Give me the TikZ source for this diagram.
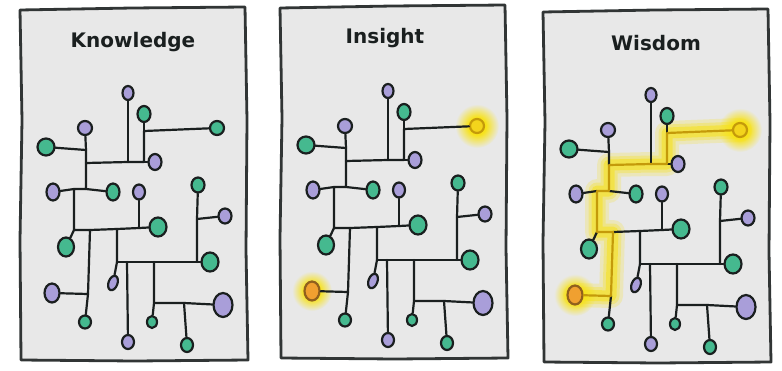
\documentclass[tikz,border=0pt]{standalone}
\usepackage{fontspec}
\newfontfamily\headfont{DejaVu Sans}
\usetikzlibrary{shapes.geometric}

\definecolor{panelgray}{HTML}{E8E8E8}
\definecolor{ink}{HTML}{1A1F1F}
\definecolor{leafgreen}{HTML}{45B98F}
\definecolor{lilac}{HTML}{A99ED9}
\definecolor{amber}{HTML}{F0A030}
\definecolor{lemon}{HTML}{F3D41C}
\definecolor{glowcore}{HTML}{F7E21A}
\definecolor{routegold}{HTML}{C49A0A}

\pgfdeclarelayer{paper}
\pgfdeclarelayer{glow}
\pgfsetlayers{paper,glow,main}
\pgfdeclareradialshading{glowball}{\pgfpoint{0bp}{0bp}}{color(0bp)=(glowcore); color(10bp)=(glowcore); color(25bp)=(panelgray); color(50bp)=(panelgray)}

\tikzset{
	frame/.style={draw=ink!90, fill=panelgray, line width=2.8pt, line join=round},
	heading/.style={font=\headfont\bfseries\fontsize{20}{24}\selectfont, text=ink, anchor=base},
	wire/.style={draw=ink, line width=2.2pt, line cap=round, line join=round},
	route/.style={wire},
	knob/.style={ellipse, draw=ink, line width=2.2pt, inner sep=0pt},
	sz/.style 2 args={minimum width=#1pt, minimum height=#2pt},
	gknob/.style={knob, fill=leafgreen},
	pknob/.style={knob, fill=lilac},
	leftend/.style={pknob},
	rightend/.style={gknob},
	litorange/.style={knob, draw=amber!60!black, fill=amber},
	lityellow/.style={knob, draw=routegold, fill=lemon}
}

% the branching tree, same in every panel
\newcommand{\wiring}{%
	\node[pknob, sz={11}{14}] (p-top) at (128,93) {};
	\node[gknob, sz={13}{16}] (g-top) at (144,114) {};
	\node[rightend, sz={14}{14}] (g-right) at (217,128) {};
	\node[pknob, sz={13}{16}] (p-mid) at (155,162) {};
	\node[pknob, sz={14}{14}] (p-left1) at (85,128) {};
	\node[gknob, sz={17}{17}] (g-left1) at (46,147) {};
	\node[pknob, sz={13}{17}] (p-left2) at (53,192) {};
	\node[gknob, sz={13}{17}] (g-c1) at (113,192) {};
	\node[pknob, sz={12}{15}] (p-c) at (139,192) {};
	\node[gknob, sz={17}{19}] (g-c2) at (158,227) {};
	\node[gknob, sz={16}{19}] (g-l3) at (66,247) {};
	\node[leftend, sz={15}{19}] (p-l3) at (52,293) {};
	\node[gknob, sz={12}{13}] (g-b1) at (85,322) {};
	\node[pknob, sz={9}{15}, rotate=-20] (p-s) at (113,283) {};
	\node[pknob, sz={12}{14}] (p-b) at (128,342) {};
	\node[gknob, sz={10}{12}] (g-b2) at (152,322) {};
	\node[pknob, sz={19}{24}] (p-big) at (223,305) {};
	\node[gknob, sz={12}{14}] (g-b3) at (187,345) {};
	\node[gknob, sz={13}{15}] (g-r2) at (198,185) {};
	\node[pknob, sz={13}{15}] (p-r) at (225,216) {};
	\node[gknob, sz={17}{19}] (g-r3) at (210,262) {};
	% junctions
	\coordinate (j1) at (128,162);
	\coordinate (j2) at (144,162);
	\coordinate (j3) at (86,163);
	\coordinate (j4) at (144,131);
	\coordinate (j5) at (86,150);
	\coordinate (j6) at (86,189);
	\coordinate (j7) at (74,189);
	\coordinate (j8) at (74,230);
	\coordinate (j9) at (90,230);
	\coordinate (j10) at (88,294);
	\coordinate (j11) at (117,229);
	\coordinate (j12) at (117,262);
	\coordinate (j13) at (139,228);
	\coordinate (j14) at (127,262);
	\coordinate (j15) at (154,262);
	\coordinate (j16) at (154,303);
	\coordinate (j17) at (184,303);
	\coordinate (j18) at (197,262);
	\coordinate (j19) at (197,219);
	% branches
	\draw[wire] (p-top) -- (j1);
	\draw[wire] (g-top) -- (j4);
	\draw[wire] (j2) -- (p-mid);
	\draw[wire] (p-left1) -- (j5) -- (j3);
	\draw[wire] (g-left1) -- (j5);
	\draw[wire] (p-left2) -- (j7);
	\draw[wire] (j6) -- (g-c1);
	\draw[wire] (j8) -- (g-l3);
	\draw[wire] (j9) -- (j11) -- (j13) -- (g-c2);
	\draw[wire] (p-c) -- (j13);
	\draw[wire] (j10) -- (g-b1);
	\draw[wire] (j11) -- (j12) -- (p-s);
	\draw[wire] (j12) -- (j14) -- (j15) -- (j18) -- (g-r3);
	\draw[wire] (j14) -- (p-b);
	\draw[wire] (j15) -- (j16) -- (g-b2);
	\draw[wire] (j16) -- (j17) -- (p-big);
	\draw[wire] (j17) -- (g-b3);
	\draw[wire] (g-r2) -- (j19) -- (j18);
	\draw[wire] (j19) -- (p-r);
	% the long way from one end to the other
	\draw[route] (p-l3) -- (j10) -- (j9) -- (j8) -- (j7) -- (j6) -- (j3) -- (j1) -- (j2) -- (j4) -- (g-right);
}

\begin{document}
\begin{tikzpicture}[x=1pt, y=-1pt]
	\useasboundingbox (0,0) rectangle (782,370);

	\begin{scope}[name prefix=k-]
		\begin{pgfonlayer}{paper}
			\draw[frame] (20,10) -- (132,8) -- (245,7) -- (247,120) -- (246,250) -- (248,360) -- (135,361) -- (21,360) -- (20,240) -- (22,120) -- cycle;
		\end{pgfonlayer}
		\node[heading] (title) at (133,47) {Knowledge};
		\wiring
	\end{scope}

	\begin{scope}[shift={(260,-2)}, name prefix=i-, leftend/.style={litorange}, rightend/.style={lityellow}]
		\begin{pgfonlayer}{paper}
			\draw[frame] (20,10) -- (132,8) -- (245,7) -- (247,120) -- (246,250) -- (248,360) -- (135,361) -- (21,360) -- (20,240) -- (22,120) -- cycle;
		\end{pgfonlayer}
		\node[heading] (title) at (125,45) {Insight};
		\wiring
		\begin{pgfonlayer}{glow}
			\shade[shading=glowball] (g-right) circle (22);
			\shade[shading=glowball] (p-l3) circle (20);
		\end{pgfonlayer}
	\end{scope}

	\begin{scope}[shift={(523,2)}, name prefix=w-, leftend/.style={litorange}, rightend/.style={lityellow}, route/.style={wire, draw=routegold}]
		\begin{pgfonlayer}{paper}
			\draw[frame] (20,10) -- (132,8) -- (245,7) -- (247,120) -- (246,250) -- (248,360) -- (135,361) -- (21,360) -- (20,240) -- (22,120) -- cycle;
		\end{pgfonlayer}
		\node[heading] (title) at (133,48) {Wisdom};
		\wiring
		\begin{pgfonlayer}{glow}
			\shade[shading=glowball] (g-right) circle (22);
			\shade[shading=glowball] (p-l3) circle (21);
			\foreach \w/\o in {24/.22, 17/.32, 11/.55}
				\draw[glowcore, opacity=\o, line width=\w pt, line cap=round, line join=round] (p-l3.center) -- (j10) -- (j9) -- (j8) -- (j7) -- (j6) -- (j3) -- (j1) -- (j2) -- (j4) -- (g-right.center);
		\end{pgfonlayer}
	\end{scope}
\end{tikzpicture}
\end{document}
